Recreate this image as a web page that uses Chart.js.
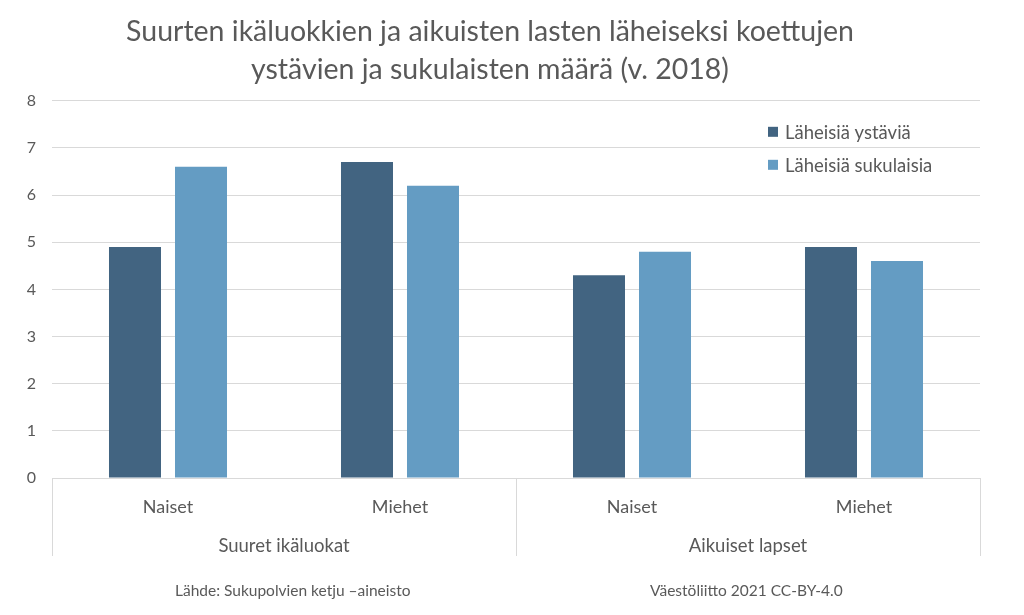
<!DOCTYPE html>
<html>
<head>
<meta charset="utf-8">
<script src="https://cdn.jsdelivr.net/npm/chart.js@4/dist/chart.umd.min.js"></script>
<style>
  html, body { margin: 0; padding: 0; background: #fff; }
  #wrap { width: 1024px; height: 615px; }
</style>
</head>
<body>
<div id="wrap"><canvas id="chart" width="1024" height="615"></canvas></div>
<script>
const titleLines = ['Suurten ikäluokkien ja aikuisten lasten läheiseksi koettujen', 'ystävien ja sukulaisten määrä (v. 2018)'];
const categories = ['Naiset', 'Miehet', 'Naiset', 'Miehet'];
const groups = ['Suuret ikäluokat', 'Aikuiset lapset'];
const seriesNames = ['Läheisiä ystäviä', 'Läheisiä sukulaisia'];
const friends = [4.9, 6.7, 4.3, 4.9];
const relatives = [6.6, 6.2, 4.8, 4.6];
const sourceText = 'Lähde: Sukupolvien ketju –aineisto';
const creditText = 'Väestöliitto 2021 CC-BY-4.0';

const FONT = 'Lato, "Liberation Sans", sans-serif';
const TEXT = '#595959';
const GRID = '#d9d9d9';
const colors = ['#426481', '#649CC3'];

// group labels + separator lines under the category axis, legend and footer
const extras = {
  id: 'extras',
  afterDraw(chart) {
    const ctx = chart.ctx;
    const area = chart.chartArea;
    const xs = chart.scales.x;
    const bottom = area.bottom + 78;
    const mid = (xs.getPixelForValue(1) + xs.getPixelForValue(2)) / 2;
    ctx.save();
    ctx.strokeStyle = GRID;
    ctx.lineWidth = 1;
    [area.left, mid, area.right].forEach(x => {
      const px = Math.round(x) + 0.5;
      ctx.beginPath();
      ctx.moveTo(px, area.bottom);
      ctx.lineTo(px, bottom);
      ctx.stroke();
    });

    ctx.fillStyle = TEXT;
    ctx.font = '18.5px ' + FONT;
    ctx.textAlign = 'center';
    ctx.textBaseline = 'middle';
    ctx.fillText(groups[0], (area.left + mid) / 2, area.bottom + 68);
    ctx.fillText(groups[1], (mid + area.right) / 2, area.bottom + 68);

    // legend inside the plot
    ctx.textAlign = 'left';
    seriesNames.forEach((name, i) => {
      const y = area.top + 31 + i * 33;
      ctx.fillStyle = colors[i];
      ctx.fillRect(area.right - 212, y - 5, 10, 10);
      ctx.fillStyle = TEXT;
      ctx.fillText(name, area.right - 195, y + 1);
    });

    // footer
    ctx.font = '15.5px ' + FONT;
    ctx.fillText(sourceText, 175, 591);
    ctx.fillText(creditText, 650, 591);
    ctx.restore();
  }
};

new Chart(document.getElementById('chart'), {
  type: 'bar',
  data: {
    labels: categories,
    datasets: [
      { label: seriesNames[0], data: friends, backgroundColor: colors[0] },
      { label: seriesNames[1], data: relatives, backgroundColor: colors[1] }
    ]
  },
  options: {
    responsive: false,
    animation: false,
    categoryPercentage: 0.569,
    barPercentage: 0.788,
    layout: { padding: { left: 0, right: 44, top: 0, bottom: 59 } },
    plugins: {
      legend: { display: false },
      tooltip: { enabled: false },
      title: {
        display: true,
        text: titleLines,
        color: TEXT,
        font: { family: FONT, size: 28.5, weight: 'normal', lineHeight: 1.33 },
        padding: { top: 13, bottom: 12 }
      }
    },
    scales: {
      x: {
        grid: { display: false },
        border: { color: GRID },
        ticks: { color: TEXT, font: { family: FONT, size: 18 }, padding: 10 },
        afterFit(scale) { scale.height = 78; }
      },
      y: {
        min: 0,
        max: 8,
        grid: { color: GRID, drawTicks: false },
        border: { display: false },
        ticks: { stepSize: 1, color: TEXT, font: { family: FONT, size: 16 }, padding: 16 },
        afterFit(scale) { scale.width = 52; }
      }
    }
  },
  plugins: [extras]
});
</script>
</body>
</html>
